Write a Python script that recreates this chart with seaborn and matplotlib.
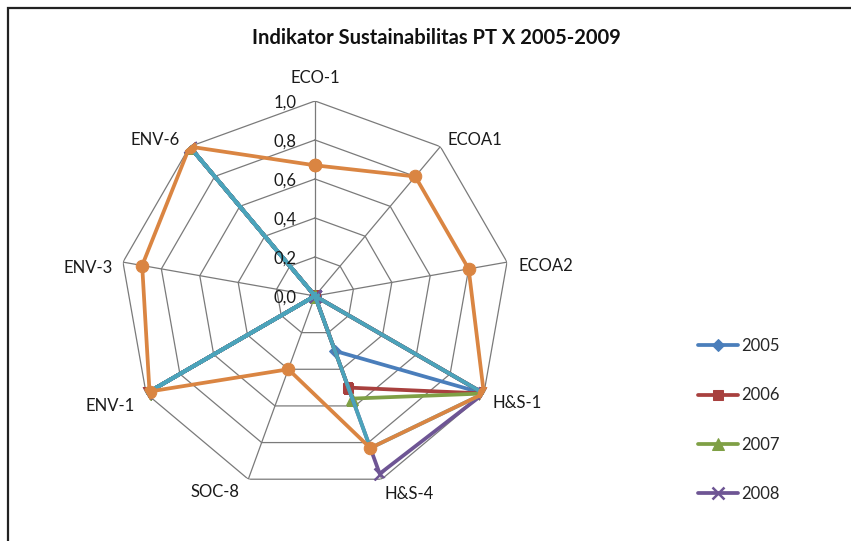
import numpy as np
import pandas as pd
import matplotlib
matplotlib.use("Agg")
import matplotlib.pyplot as plt
import matplotlib.patches as patches
import seaborn as sns

categories = ['ECO-1', 'ECOA1', 'ECOA2', 'H&S-1', 'H&S-4', 'SOC-8', 'ENV-1', 'ENV-3', 'ENV-6']
v2005 = [0.0, 0.0, 0.0, 1.0, 0.30, 0.0, 1.0, 0.0, 1.0]
v2006 = [0.0, 0.0, 0.0, 1.0, 0.50, 0.0, 1.0, 0.0, 1.0]
v2007 = [0.0, 0.0, 0.0, 1.0, 0.56, 0.0, 1.0, 0.0, 1.0]
v2008 = [0.0, 0.0, 0.0, 1.0, 0.97, 0.0, 1.0, 0.0, 1.0]
v2009 = [0.0, 0.0, 0.0, 1.0, 0.83, 0.0, 1.0, 0.0, 1.0]
v_target = [0.67, 0.80, 0.80, 1.0, 0.83, 0.40, 0.98, 0.90, 1.0]
series_names = ['2005', '2006', '2007', '2008', '2009', 'Target']
ring_ticks = [0.0, 0.2, 0.4, 0.6, 0.8, 1.0]
ring_labels = ['0,0', '0,2', '0,4', '0,6', '0,8', '1,0']

sns.set_style("white")
plt.rcParams['font.family'] = ['Lato', 'DejaVu Sans']

fig = plt.figure(figsize=(8.51, 5.41), dpi=100)
ax = fig.add_axes([120 / 851, 1 - 296 / 541 - 0.3604, 390 / 851, 390 / 541], polar=True)
ax.set_theta_zero_location('N')
ax.set_theta_direction(-1)

n = len(categories)
theta = np.linspace(0, 2 * np.pi, n, endpoint=False)
theta_closed = np.append(theta, theta[0])

# polygon grid
for r in ring_ticks[1:]:
    ax.plot(theta_closed, [r] * (n + 1), color='#7a7a7a', lw=0.9, zorder=1)
for t in theta:
    ax.plot([t, t], [0, 1], color='#7a7a7a', lw=0.9, zorder=1)

colors = ['#4A7EBB', '#A8403E', '#7FA045', '#6E5594', '#4BA3BA', '#DA8542']
styles = [
    dict(marker='D', markersize=6),
    dict(marker='s', markersize=7),
    dict(marker='^', markersize=8),
    dict(marker='x', markersize=9, markeredgewidth=1.8),
    dict(marker=(6, 2, 0), markersize=6, markeredgewidth=1.2),
    dict(marker='o', markersize=9),
]
all_vals = [v2005, v2006, v2007, v2008, v2009, v_target]

for name, vals, col, st in zip(series_names, all_vals, colors, styles):
    df = pd.DataFrame({'theta': theta_closed, 'value': vals + [vals[0]]})
    sns.lineplot(data=df, x='theta', y='value', sort=False, estimator=None, ax=ax,
                 lw=2.7, label=name, zorder=3, color=col,
                 markeredgecolor=col, markerfacecolor=col, linestyle='-', **st)

ax.set_ylim(0, 1)
ax.set_xticks([])
ax.set_yticks([])
ax.grid(False)
ax.spines['polar'].set_visible(False)
ax.set_xlabel('')
ax.set_ylabel('')
ax.patch.set_alpha(0)

for r, lab in zip(ring_ticks, ring_labels):
    ax.annotate(lab, (0, r), xytext=(-13, -1), textcoords='offset points',
                ha='right', va='center', fontsize=12, color='#1a1a1a')

label_pos = {
    'ECO-1': ((0, 16.5), 'center'),
    'ECOA1': ((5, 5), 'left'),
    'ECOA2': ((8, -3), 'left'),
    'H&S-1': ((6, -7), 'left'),
    'H&S-4': ((2, -11), 'left'),
    'SOC-8': ((-6, -9), 'right'),
    'ENV-1': ((-8, -9), 'right'),
    'ENV-3': ((-7, -4), 'right'),
    'ENV-6': ((-7, 5), 'right'),
}
for t, cat in zip(theta, categories):
    off, ha = label_pos[cat]
    ax.annotate(cat, (t, 1.0), xytext=off, textcoords='offset points',
                ha=ha, va='center', fontsize=12, color='#1a1a1a')

handles, labels = ax.get_legend_handles_labels()
ax.get_legend().remove()
fig.legend(handles[:4], labels[:4], loc='upper left',
           bbox_to_anchor=(698 / 851, 1 - 338 / 541), frameon=False,
           fontsize=12, handlelength=2.4, handletextpad=0.2,
           labelspacing=2.0, borderpad=0, borderaxespad=0)

fig.text(436 / 851, 1 - 38 / 541, 'Indikator Sustainabilitas PT X 2005-2009',
         ha='center', va='center', fontsize=14.5, fontweight='bold', color='#111111')

frame = patches.Rectangle((8 / 851, -0.05), 1.1, 1 - 8 / 541 + 0.05,
                          transform=fig.transFigure, fill=False,
                          ec='#222222', lw=1.6)
fig.add_artist(frame)

fig.savefig('out.png', dpi=100)
